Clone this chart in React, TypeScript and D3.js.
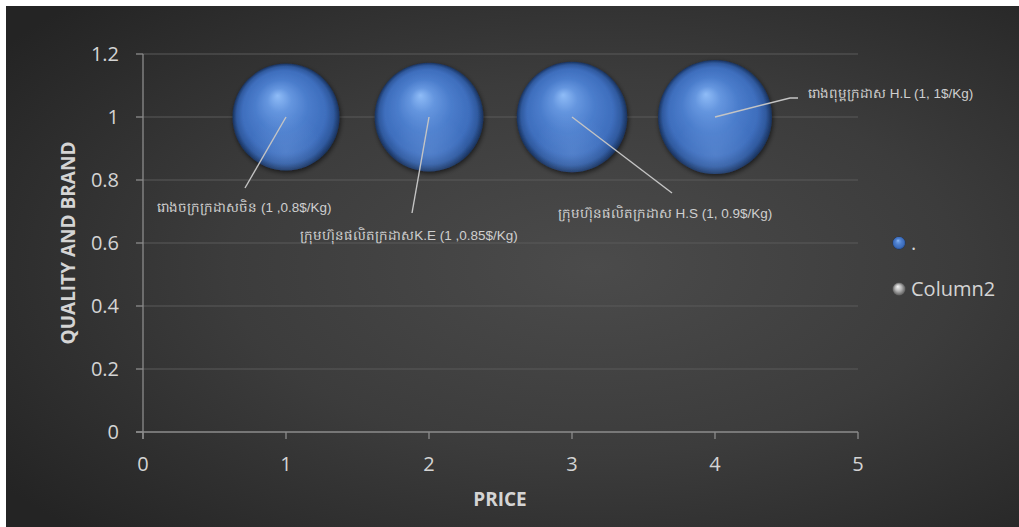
import React from "react";
import * as d3 from "d3";

const xValues = [1, 2, 3, 4];
const yValues = [1, 1, 1, 1];
const sizes = [0.8, 0.85, 0.9, 1];
const labels = [
  "រោងចក្រក្រដាសចិន (1 ,0.8$/Kg)",
  "ក្រុមហ៊ុនផលិតក្រដាសK.E (1 ,0.85$/Kg)",
  "ក្រុមហ៊ុនផលិតក្រដាស H.S (1, 0.9$/Kg)",
  "រោងពុម្ពក្រដាស  H.L (1, 1$/Kg)",
];
// label anchor offsets in data units relative to bubble (x, y)
const labelDx = [-0.9, -0.9, -0.1, 0.65];
const labelDy = [-0.3, -0.39, -0.32, 0.06];
const xTicks = [0, 1, 2, 3, 4, 5];
const yTicks = [0, 0.2, 0.4, 0.6, 0.8, 1, 1.2];
const legendItems = [".", "Column2"];

export default function App() {
  const W = 1013, H = 521;
  const ox = 6, oy = 6;
  const x = d3.scaleLinear().domain([0, 5]).range([143 - ox, 858 - ox]);
  const y = d3.scaleLinear().domain([0, 1.2]).range([432 - oy, 54 - oy]);
  const r = d3.scaleLinear().domain([0.8, 1]).range([53.5, 57]);
  const font = "'Open Sans', 'Noto Sans', sans-serif";
  const tickColor = "#d4d4d4";
  const leaderEnds = [
    [245, 188],
    [412, 213],
    [672, 193],
    [798, 98],
  ];
  return (
    <svg
      width={W}
      height={H}
      style={{ position: "absolute", left: ox, top: oy }}
    >
      <defs>
        <radialGradient id="bg" cx="0.58" cy="0.5" r="0.72" gradientUnits="objectBoundingBox">
          <stop offset="0" stopColor="#4b4b4b" />
          <stop offset="0.5" stopColor="#3c3c3c" />
          <stop offset="1" stopColor="#242424" />
        </radialGradient>
        <radialGradient id="sphere" cx="0.5" cy="0.5" r="0.5" fx="0.42" fy="0.3">
          <stop offset="0" stopColor="#8fbcf7" />
          <stop offset="0.22" stopColor="#6596df" />
          <stop offset="0.5" stopColor="#4a7ccb" />
          <stop offset="0.78" stopColor="#3e6ebd" />
          <stop offset="0.91" stopColor="#2f599e" />
          <stop offset="1" stopColor="#1a325c" />
        </radialGradient>
        <radialGradient id="sphereGrey" cx="0.5" cy="0.5" r="0.5" fx="0.4" fy="0.3">
          <stop offset="0" stopColor="#f4f4f4" />
          <stop offset="0.5" stopColor="#b5b5b5" />
          <stop offset="1" stopColor="#5a5a5a" />
        </radialGradient>
        <radialGradient id="bottomGlow" cx="0.5" cy="0.82" r="0.35">
          <stop offset="0" stopColor="#7fa9e8" stopOpacity="0.3" />
          <stop offset="1" stopColor="#7fa9e8" stopOpacity="0" />
        </radialGradient>
        <filter id="shadow" x="-30%" y="-30%" width="160%" height="160%">
          <feGaussianBlur in="SourceAlpha" stdDeviation="2.5" />
          <feOffset dx="1" dy="2" result="b" />
          <feComponentTransfer>
            <feFuncA type="linear" slope="0.6" />
          </feComponentTransfer>
          <feMerge>
            <feMergeNode />
            <feMergeNode in="SourceGraphic" />
          </feMerge>
        </filter>
      </defs>
      <rect x={0} y={0} width={W} height={H} fill="url(#bg)" />
      {/* gridlines */}
      {yTicks.slice(1).map((t) => (
        <line key={"g" + t} x1={x(0)} x2={x(5)} y1={y(t)} y2={y(t)} stroke="#5a5a5a" strokeWidth={1} />
      ))}
      {/* axes */}
      <line x1={x(0)} x2={x(0)} y1={y(0) + 7} y2={y(1.2)} stroke="#8c8c8c" strokeWidth={1.3} />
      <line x1={x(0) - 7} x2={x(5)} y1={y(0)} y2={y(0)} stroke="#8c8c8c" strokeWidth={1.3} />
      {yTicks.map((t) => (
        <g key={"y" + t}>
          <line x1={x(0) - 7} x2={x(0)} y1={y(t)} y2={y(t)} stroke="#8c8c8c" strokeWidth={1.3} />
          <text x={x(0) - 24} y={y(t)} dy="0.35em" textAnchor="end" fill={tickColor} fontSize={20} fontFamily={font}>
            {d3.format("")(t)}
          </text>
        </g>
      ))}
      {xTicks.map((t) => (
        <g key={"x" + t}>
          <line x1={x(t)} x2={x(t)} y1={y(0)} y2={y(0) + 7} stroke="#8c8c8c" strokeWidth={1.3} />
          <text x={x(t)} y={y(0) + 39} textAnchor="middle" fill={tickColor} fontSize={20} fontFamily={font}>
            {t}
          </text>
        </g>
      ))}
      {/* axis titles */}
      <text x={500 - ox} y={506 - oy} textAnchor="middle" fill={tickColor} fontSize={19} fontWeight="bold" fontFamily={font}>
        PRICE
      </text>
      <text
        transform={`translate(${75 - ox},${243 - oy}) rotate(-90)`}
        textAnchor="middle"
        fill={tickColor}
        fontSize={19}
        fontWeight="bold"
        fontFamily={font}
      >
        QUALITY AND BRAND
      </text>
      {/* bubbles */}
      {xValues.map((xv, i) => (
        <g key={"b" + i}>
          <circle cx={x(xv)} cy={y(yValues[i])} r={r(sizes[i])} fill="url(#sphere)" filter="url(#shadow)" />
          <circle cx={x(xv)} cy={y(yValues[i])} r={r(sizes[i])} fill="url(#bottomGlow)" />
        </g>
      ))}
      {/* leader lines and labels */}
      {xValues.map((xv, i) => {
        const lx = x(xv + labelDx[i]);
        const ly = y(yValues[i] + labelDy[i]);
        const [ex, ey] = [leaderEnds[i][0] - ox, leaderEnds[i][1] - oy];
        return (
          <g key={"l" + i}>
            {i === 3 ? (
              <polyline
                points={`${x(xv)},${y(yValues[i])} ${ex - 8},${ey} ${ex},${ey}`}
                fill="none"
                stroke="#c4c4c4"
                strokeWidth={1.4}
              />
            ) : (
              <line x1={x(xv)} y1={y(yValues[i])} x2={ex} y2={ey} stroke="#c4c4c4" strokeWidth={1.4} />
            )}
            <text x={lx} y={ly} fill="#cfcfcf" fontSize={13.5} fontFamily="'Liberation Sans', Arial, sans-serif">
              {labels[i]}
            </text>
          </g>
        );
      })}
      {/* legend */}
      {legendItems.map((name, i) => (
        <g key={"lg" + i} transform={`translate(${899 - ox},${243 - oy + i * 46})`}>
          <circle r={6.5} fill={i === 0 ? "url(#sphere)" : "url(#sphereGrey)"} />
          <text x={12} y={0} dy="0.35em" fill={tickColor} fontSize={20} fontFamily={font}>
            {name}
          </text>
        </g>
      ))}
    </svg>
  );
}
